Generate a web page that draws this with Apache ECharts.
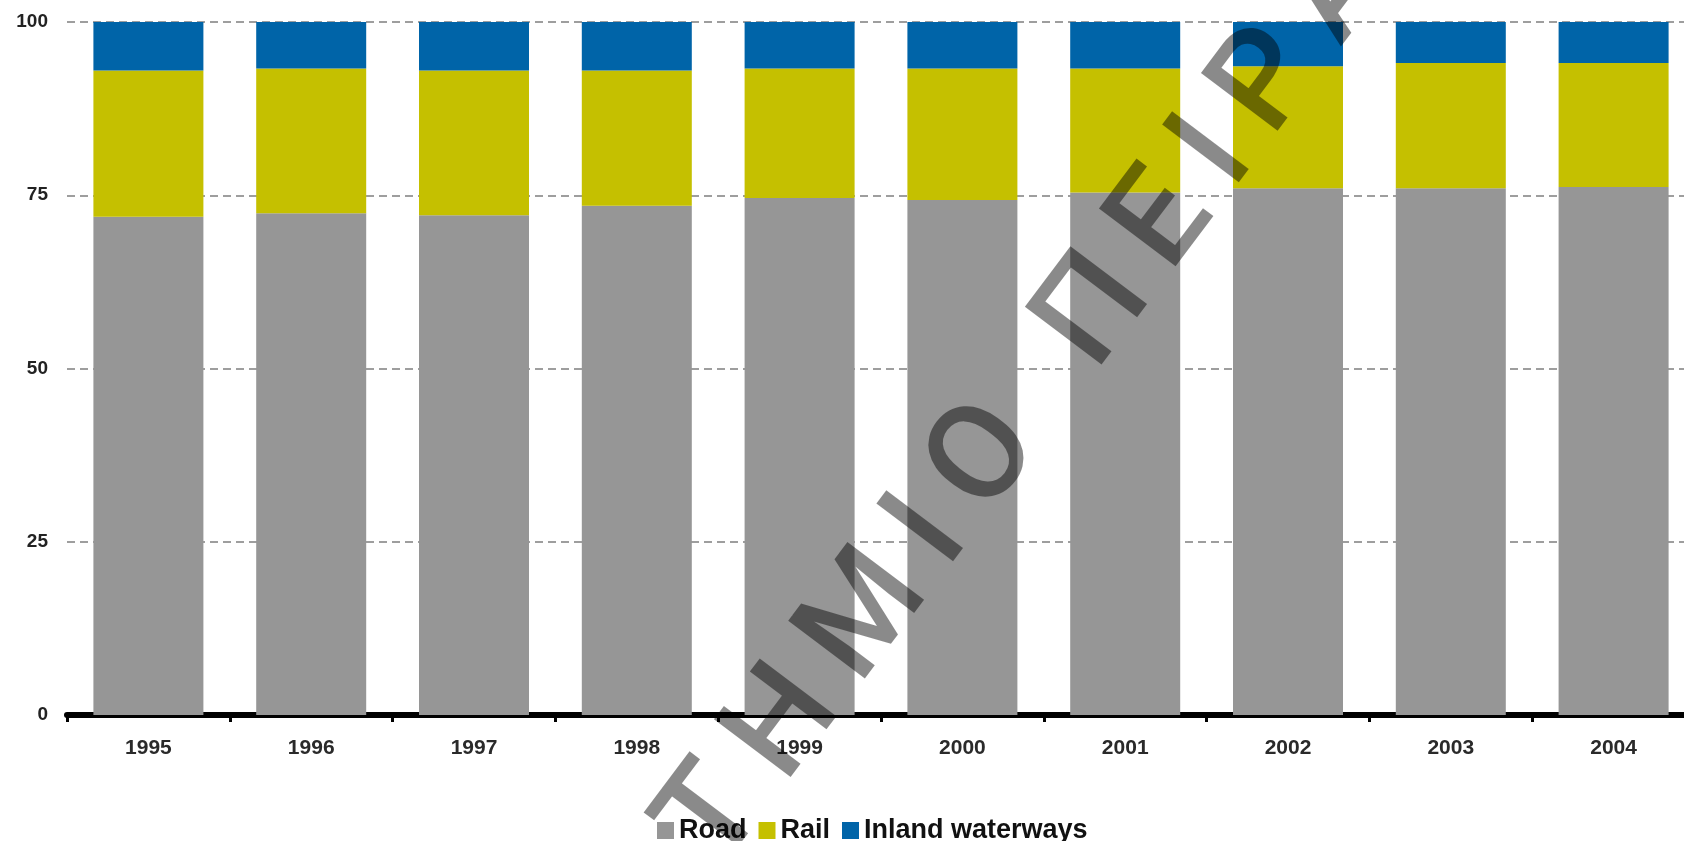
<!DOCTYPE html>
<html>
<head>
<meta charset="utf-8">
<title>Modal split</title>
<script src="https://cdn.jsdelivr.net/npm/echarts@6/dist/echarts.min.js"></script>
<style>
	html, body { margin: 0; padding: 0; background: #fff; overflow: hidden; }
	#chart { width: 1695px; height: 841px; }
</style>
</head>
<body>
<div id="chart"></div>
<script>
	// 数据
	var years = ['1995', '1996', '1997', '1998', '1999', '2000', '2001', '2002', '2003', '2004'];
	var road = [71.9, 72.4, 72.1, 73.5, 74.6, 74.3, 75.4, 76.0, 76.0, 76.2];
	var rail = [21.1, 20.9, 20.9, 19.5, 18.7, 19.0, 17.9, 17.6, 18.1, 17.9];
	var inland = [7.0, 6.7, 7.0, 7.0, 6.7, 6.7, 6.7, 6.4, 5.9, 5.9];
	var yTicks = [0, 25, 50, 75, 100];

	var font = '"Liberation Sans", Arial, sans-serif';
	var myChart = echarts.init(document.getElementById('chart'));

	var option = {
		animation: false,
		grid: {
			left: 67,
			top: 22,
			right: 0,
			bottom: 126
		},
		legend: {
			data: ['Road', 'Rail', 'Inland waterways'],
			left: 657,
			top: 817,
			padding: 0,
			itemWidth: 17,
			itemHeight: 17,
			itemGap: 12,
			icon: 'rect',
			textStyle: {
				fontFamily: font,
				fontWeight: 'bold',
				fontSize: 27,
				color: '#111'
			}
		},
		xAxis: {
			type: 'category',
			data: years,
			offset: 5,
			axisLine: {
				lineStyle: { color: '#000', width: 6 }
			},
			axisTick: {
				show: true,
				length: 7,
				lineStyle: { color: '#000', width: 3 }
			},
			axisLabel: {
				fontFamily: font,
				fontWeight: 'bold',
				fontSize: 21,
				color: '#2a2a2a',
				margin: 18
			}
		},
		yAxis: {
			type: 'value',
			min: yTicks[0],
			max: yTicks[yTicks.length - 1],
			interval: 25,
			axisLine: { show: false },
			axisTick: { show: false },
			axisLabel: {
				fontFamily: font,
				fontWeight: 'bold',
				fontSize: 19,
				color: '#222',
				margin: 19
			},
			splitLine: {
				lineStyle: { color: '#7f7f7f', width: 1.5, type: [8, 5] }
			}
		},
		series: [{
				name: 'Road',
				type: 'bar',
				stack: 'total',
				barWidth: 110,
				itemStyle: { color: '#969696' },
				data: road
			},
			{
				name: 'Rail',
				type: 'bar',
				stack: 'total',
				barWidth: 110,
				itemStyle: { color: '#c5c000' },
				data: rail
			},
			{
				name: 'Inland waterways',
				type: 'bar',
				stack: 'total',
				barWidth: 110,
				itemStyle: { color: '#0064a8' },
				data: inland
			}
		],
		// 水印
		graphic: [{
			type: 'text',
			x: 887,
			y: 593,
			rotation: 53 * Math.PI / 180,
			z: 100,
			silent: true,
			style: {
				text: 'Π\u2009Α\u2009Ν\u2009Ε\u2009Π\u2009Ι\u2009Σ\u2009Τ\u2009Η\u2009Μ\u2009Ι\u2009Ο\u2009 \u2009Π\u2009Ε\u2009Ι\u2009Ρ\u2009Α\u2009Ι\u2009Ω\u2009Σ',
				font: '500 135px Roboto, "Liberation Sans", sans-serif',
				fill: 'rgba(0,0,0,0.46)',
				align: 'center',
				verticalAlign: 'middle'
			}
		}]
	};
	myChart.setOption(option);
</script>
</body>
</html>
